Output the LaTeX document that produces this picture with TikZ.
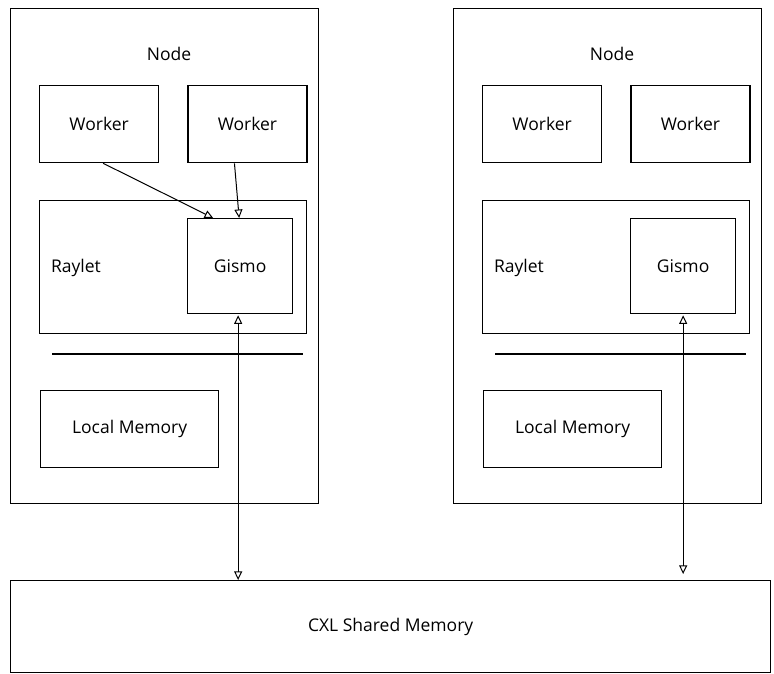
\documentclass[tikz,border=0pt]{standalone}
\usepackage{fontspec}
\setmainfont{Open Sans}
\usetikzlibrary{positioning, calc, arrows.meta}
\tikzset{>={Triangle[open, width=2.8mm, length=3mm]}}
\tikzset{box/.style = {draw, line width = 1.3pt, inner sep = 0pt, anchor = north west}}
\def \wkwidth {119pt}
\def \wkheight {77pt}

\begin{document}
\begin{tikzpicture}[x = 1pt, y = -1pt]
\fontsize{17.5}{20}\selectfont
\useasboundingbox (0, 0) rectangle (774, 674);

\foreach \nd/\dx in {a/0, b/443} {
  \node (host\nd) [box, minimum width = 308pt, minimum height = 495pt] at (10 + \dx, 8) {};
  \node (title\nd) at (169 + \dx, 54) {Node};
  \node (work1\nd) [box, minimum width = \wkwidth, minimum height = \wkheight] at (39 + \dx, 85) {};
  \node at (work1\nd.center) {Worker};
  \node (work2\nd) [box, minimum width = \wkwidth, minimum height = \wkheight, right = 28pt of work1\nd.north east, anchor = north west] {};
  \node at (work2\nd.center) {Worker};
  \node (ray\nd) [box, minimum width = 267pt, minimum height = 133pt] at (39 + \dx, 200) {};
  \node (raytext\nd) at (76 + \dx, 268) {Raylet};
  \node (gis\nd) [box, minimum width = 105pt, minimum height = 95pt] at (187 + \dx, 218) {};
  \node at (gis\nd.center) {Gismo};
  \coordinate (sep1\nd) at (52 + \dx, 354);
  \coordinate (sep2\nd) at (303 + \dx, 354);
  \draw[line width = 1.3pt] (sep1\nd) -- (sep2\nd);
  \node (mem\nd) [box, minimum width = 178pt, minimum height = 77pt] at (40 + \dx, 390) {};
  \node at (mem\nd.center) {Local Memory};
}

\node (cxl) [box, minimum width = 760pt, minimum height = 92pt] at (10, 580) {};
\node at (cxl.center) {CXL Shared Memory};

\draw[->, line width = 1pt] ([xshift = 4pt] work1a.south) to ([xshift = -27pt] gisa.north);
\draw[->, line width = 1pt] ([xshift = -13pt] work2a.south) to ([xshift = -1pt] gisa.north);
\draw[<->, line width = 1pt, shorten < = 1pt] ([xshift = -2pt] gisa.south) to ([xshift = -2pt] gisa.south |- cxl.north);
\draw[<->, line width = 1pt, shorten < = 1pt, shorten > = 6pt] (gisb.south) to (gisb.south |- cxl.north);

\end{tikzpicture}
\end{document}
